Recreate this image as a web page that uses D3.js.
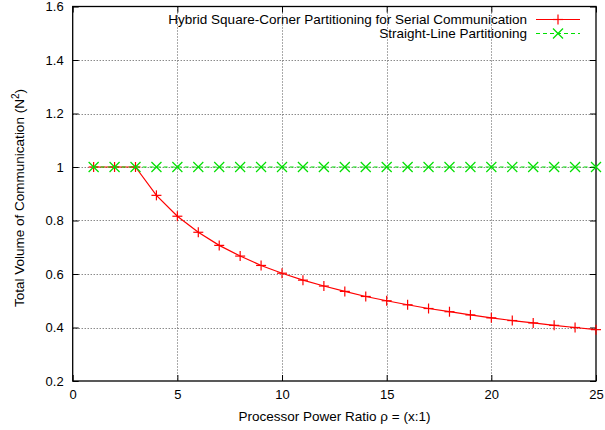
<!DOCTYPE html>
<html lang="en">
<head>
    <meta charset="UTF-8">
    <title>Communication volume</title>
    <script src="https://cdnjs.cloudflare.com/ajax/libs/d3/7.8.5/d3.min.js"></script>
    <style>
        body { margin: 0; background: #fff; }
        text { font-family: "Liberation Sans", Arial, sans-serif; font-size: 13.5px; fill: #000; }
    </style>
</head>
<body>
<script>
    // data
    var ratios = [1, 2, 3, 4, 5, 6, 7, 8, 9, 10, 11, 12, 13, 14, 15, 16, 17, 18, 19, 20, 21, 22, 23, 24, 25];
    var hybridVolume = [1, 1, 1, 0.894, 0.816, 0.756, 0.707, 0.667, 0.632, 0.603, 0.577, 0.555, 0.535,
        0.516, 0.5, 0.485, 0.471, 0.459, 0.447, 0.436, 0.426, 0.417, 0.408, 0.4, 0.392];
    var straightVolume = [1, 1, 1, 1, 1, 1, 1, 1, 1, 1, 1, 1, 1, 1, 1, 1, 1, 1, 1, 1, 1, 1, 1, 1, 1];
    var xTicks = [0, 5, 10, 15, 20, 25];
    var yTicks = [0.2, 0.4, 0.6, 0.8, 1, 1.2, 1.4, 1.6];
    var seriesNames = ["Hybrid Square-Corner Partitioning for Serial Communication", "Straight-Line Partitioning"];

    var W = 605, H = 430;
    var plotL = 72.7, plotR = 596, plotT = 6.5, plotB = 381;

    var svg = d3.select("body").append("svg").attr("width", W).attr("height", H);

    var x = d3.scaleLinear().domain([0, 25]).range([plotL, plotR]);
    var y = d3.scaleLinear().domain([0.2, 1.6]).range([plotB, plotT]);

    // grid
    var grid = svg.append("g").attr("stroke", "#555").attr("stroke-width", 1).attr("stroke-dasharray", "1,2");
    grid.selectAll("line.gx").data(xTicks.slice(1, -1)).enter().append("line")
        .attr("x1", function(d) { return Math.round(x(d)) + 0.5; })
        .attr("x2", function(d) { return Math.round(x(d)) + 0.5; })
        .attr("y1", plotT).attr("y2", plotB);
    grid.selectAll("line.gy").data(yTicks.slice(1, -1)).enter().append("line")
        .attr("y1", function(d) { return Math.round(y(d)) + 0.5; })
        .attr("y2", function(d) { return Math.round(y(d)) + 0.5; })
        .attr("x1", plotL).attr("x2", plotR);

    // axes (ticks mirrored on all sides)
    var ax = svg.append("g");
    ax.append("g").attr("transform", "translate(0," + plotB + ")")
        .call(d3.axisBottom(x).tickValues(xTicks).tickSizeInner(-6).tickSizeOuter(0).tickPadding(9).tickFormat(d3.format("d")));
    ax.append("g").attr("transform", "translate(0," + plotT + ")")
        .call(d3.axisTop(x).tickValues(xTicks).tickSizeInner(-6).tickSizeOuter(0).tickFormat(""));
    ax.append("g").attr("transform", "translate(" + plotL + ",0)")
        .call(d3.axisLeft(y).tickValues(yTicks).tickSizeInner(-6).tickSizeOuter(0).tickPadding(9).tickFormat(function(d) { return d3.format("")(d); }));
    ax.append("g").attr("transform", "translate(" + plotR + ",0)")
        .call(d3.axisRight(y).tickValues(yTicks).tickSizeInner(-6).tickSizeOuter(0).tickFormat(""));
    ax.selectAll(".domain").remove();
    ax.selectAll("line").attr("stroke", "#000");
    ax.selectAll("text").style("font-family", "Liberation Sans, Arial, sans-serif").style("font-size", "13px").attr("fill", "#000");

    svg.append("rect").attr("x", plotL).attr("y", plotT).attr("width", plotR - plotL).attr("height", plotB - plotT)
        .attr("fill", "none").attr("stroke", "#000").attr("stroke-width", 1.3);

    // series
    var line = d3.line().x(function(d) { return x(d[0]); }).y(function(d) { return y(d[1]); });
    var hybridPts = ratios.map(function(r, i) { return [r, hybridVolume[i]]; });
    var straightPts = ratios.map(function(r, i) { return [r, straightVolume[i]]; });

    function plus(g, px, py, s) {
        g.append("line").attr("x1", px - s).attr("x2", px + s).attr("y1", py).attr("y2", py);
        g.append("line").attr("x1", px).attr("x2", px).attr("y1", py - s).attr("y2", py + s);
    }
    function cross(g, px, py, s) {
        g.append("line").attr("x1", px - s).attr("x2", px + s).attr("y1", py - s).attr("y2", py + s);
        g.append("line").attr("x1", px - s).attr("x2", px + s).attr("y1", py + s).attr("y2", py - s);
    }

    var red = svg.append("g").attr("stroke", "#ff0000").attr("stroke-width", 1.2).attr("fill", "none");
    red.append("path").attr("d", line(hybridPts));
    hybridPts.forEach(function(p) { plus(red, x(p[0]), y(p[1]), 5); });

    var green = svg.append("g").attr("stroke", "#00e000").attr("stroke-width", 1.2).attr("fill", "none");
    green.append("path").attr("d", line(straightPts)).attr("stroke-dasharray", "4,3");
    straightPts.forEach(function(p) { cross(green, x(p[0]), y(p[1]), 5); });

    // legend
    var legend = svg.append("g");
    seriesNames.forEach(function(name, i) {
        var ly = 19.5 + i * 14;
        legend.append("text").attr("x", 527).attr("y", ly).attr("dy", "0.35em")
            .attr("text-anchor", "end").text(name);
        var g = legend.append("g").attr("stroke", i === 0 ? "#ff0000" : "#00e000").attr("stroke-width", 1.2);
        g.append("line").attr("x1", 536).attr("x2", 580).attr("y1", ly).attr("y2", ly)
            .attr("stroke-dasharray", i === 0 ? null : "4,3");
        if (i === 0) plus(g, 558, ly, 5); else cross(g, 558, ly, 5);
    });

    // axis titles
    svg.append("text").attr("x", 334.5).attr("y", 421).attr("text-anchor", "middle")
        .text("Processor Power Ratio \u03c1 = (x:1)");
    var yl = svg.append("text").attr("transform", "translate(23.5,198) rotate(-90)")
        .attr("text-anchor", "middle");
    yl.append("tspan").text("Total Volume of Communication (N");
    yl.append("tspan").attr("dy", -5).style("font-size", "10px").text("2");
    yl.append("tspan").attr("dy", 5).text(")");
</script>
</body>
</html>
